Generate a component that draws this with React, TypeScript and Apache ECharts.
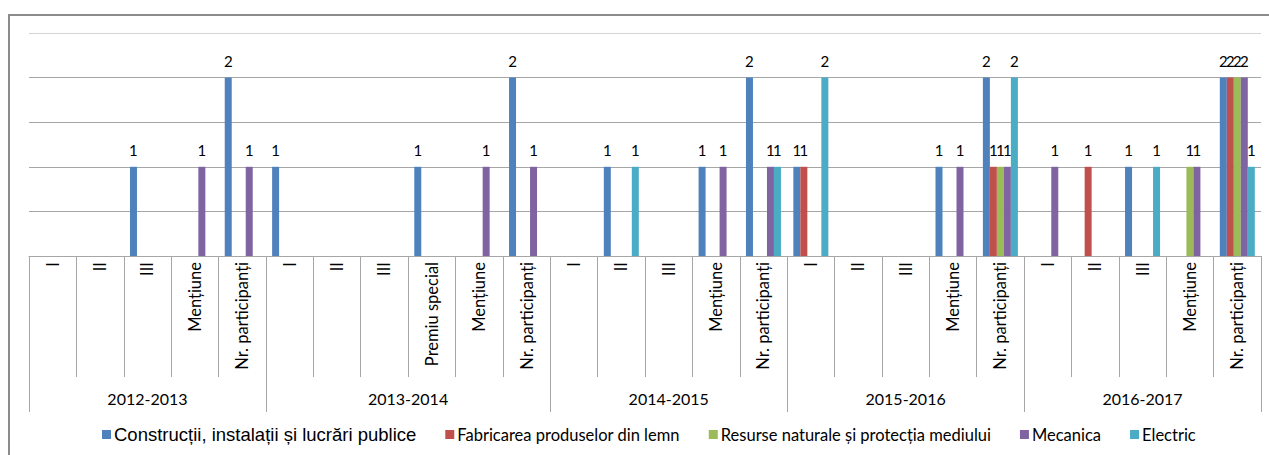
import React, { useEffect, useRef } from "react";
import * as echarts from "echarts";

const categories = [
  "I", "II", "III", "Mențiune", "Nr. participanți",
  "I", "II", "III", "Premiu special", "Mențiune", "Nr. participanți",
  "I", "II", "III", "Mențiune", "Nr. participanți",
  "I", "II", "III", "Mențiune", "Nr. participanți",
  "I", "II", "III", "Mențiune", "Nr. participanți",
];
const years = ["2012-2013", "2013-2014", "2014-2015", "2015-2016", "2016-2017"];
const groupSizes = [5, 6, 5, 5, 5];

const seriesNames = [
  "Construcții, instalații și lucrări publice",
  "Fabricarea produselor din lemn",
  "Resurse naturale și protecția mediului",
  "Mecanica",
  "Electric",
];
const seriesColors = ["#4F81BD", "#C0504D", "#9BBB59", "#8064A2", "#4BACC6"];

const _ = null;
const constructii = [_, _, 1, _, 2, 1, _, _, 1, _, 2, _, 1, _, 1, 2, 1, _, _, 1, 2, _, _, 1, _, 2];
const fabricarea = [_, _, _, _, _, _, _, _, _, _, _, _, _, _, _, _, 1, _, _, _, 1, _, 1, _, _, 2];
const resurse = [_, _, _, _, _, _, _, _, _, _, _, _, _, _, _, _, _, _, _, _, 1, _, _, _, 1, 2];
const mecanica = [_, _, _, 1, 1, _, _, _, _, 1, 1, _, _, _, 1, 1, _, _, _, 1, 1, 1, _, _, 1, 2];
const electric = [_, _, _, _, _, _, _, _, _, _, _, _, 1, _, _, 1, 2, _, _, _, 2, _, _, 1, _, 1];
const seriesData = [constructii, fabricarea, resurse, mecanica, electric];

export default function App() {
  const ref = useRef<HTMLDivElement>(null);
  useEffect(() => {
    if (!ref.current) return;
    const chart = echarts.init(ref.current, null, { renderer: "svg" });

    const total = categories.length;
    const yearAxisData: string[] = new Array(total * 2 + 1).fill("");
    const boundaries = new Set<number>();
    let start = 0;
    boundaries.add(0);
    groupSizes.forEach((n, k) => {
      yearAxisData[2 * start + n] = years[k];
      start += n;
      boundaries.add(2 * start);
    });
    const labelIdx = new Set<number>();
    yearAxisData.forEach((v, i) => { if (v) labelIdx.add(i); });

    const lineColor = "#a6a6a6";
    const font = "Lato, 'Noto Sans', sans-serif";

    chart.setOption({
      animation: false,
      graphic: [
        {
          type: "rect",
          shape: { x: 9, y: 15, width: 1400, height: 600 },
          style: { fill: "none", stroke: "#8c8c8c", lineWidth: 2 },
          silent: true,
        },
      ],
      grid: { left: 29, right: 8, top: 33, bottom: 199, containLabel: false },
      legend: {
        bottom: 6,
        left: 97,
        icon: "rect",
        itemWidth: 9,
        itemHeight: 9,
        itemGap: 29,
        data: seriesNames,
        formatter: (name: string) =>
          name === seriesNames[0] ? `{a|${name}}` : `{b|${name}}`,
        textStyle: {
          color: "#000",
          padding: [0, 0, 0, -2],
          rich: {
            a: { fontFamily: "'Liberation Sans Narrow', 'Liberation Sans', Arial, sans-serif", fontSize: 18.5, color: "#000" },
            b: { fontFamily: font, fontSize: 16.5, color: "#000" },
          },
        },
      },
      xAxis: [
        {
          type: "category",
          data: categories,
          boundaryGap: true,
          axisLine: { show: true, lineStyle: { color: lineColor, width: 1 } },
          axisTick: { show: true, interval: 0, length: 121, lineStyle: { color: lineColor } },
          axisLabel: {
            interval: 0,
            rotate: 90,
            margin: 6,
            color: "#000",
            fontFamily: font,
            fontSize: 16.5,
          },
        },
        {
          type: "category",
          data: yearAxisData,
          boundaryGap: false,
          position: "bottom",
          axisLine: { show: false },
          axisTick: {
            show: true,
            length: 156,
            interval: (i: number) => boundaries.has(i),
            lineStyle: { color: lineColor },
          },
          axisLabel: {
            interval: (i: number) => labelIdx.has(i),
            margin: 134,
            color: "#000",
            fontFamily: font,
            fontSize: 16,
          },
        },
      ],
      yAxis: {
        type: "value",
        min: 0,
        max: 2.5,
        interval: 0.5,
        axisLabel: { show: false },
        axisLine: { show: false },
        axisTick: { show: false },
        splitLine: {
          show: true,
          lineStyle: {
            color: [lineColor, lineColor, lineColor, lineColor, lineColor, "#d4d4d4"],
            width: 1,
          },
        },
      },
      series: seriesNames.map((name, i) => ({
        name,
        type: "bar",
        xAxisIndex: 0,
        data: seriesData[i],
        barWidth: 7,
        barGap: "0%",
        itemStyle: { color: seriesColors[i] },
        label: {
          show: true,
          position: "top",
          distance: 9,
          color: "#000",
          fontFamily: font,
          fontSize: 15,
        },
      })),
    });
    return () => chart.dispose();
  }, []);
  return (
    <div
      ref={ref}
      style={{ position: "fixed", left: 0, top: 0, width: 1269, height: 455, background: "#fff" }}
    />
  );
}
